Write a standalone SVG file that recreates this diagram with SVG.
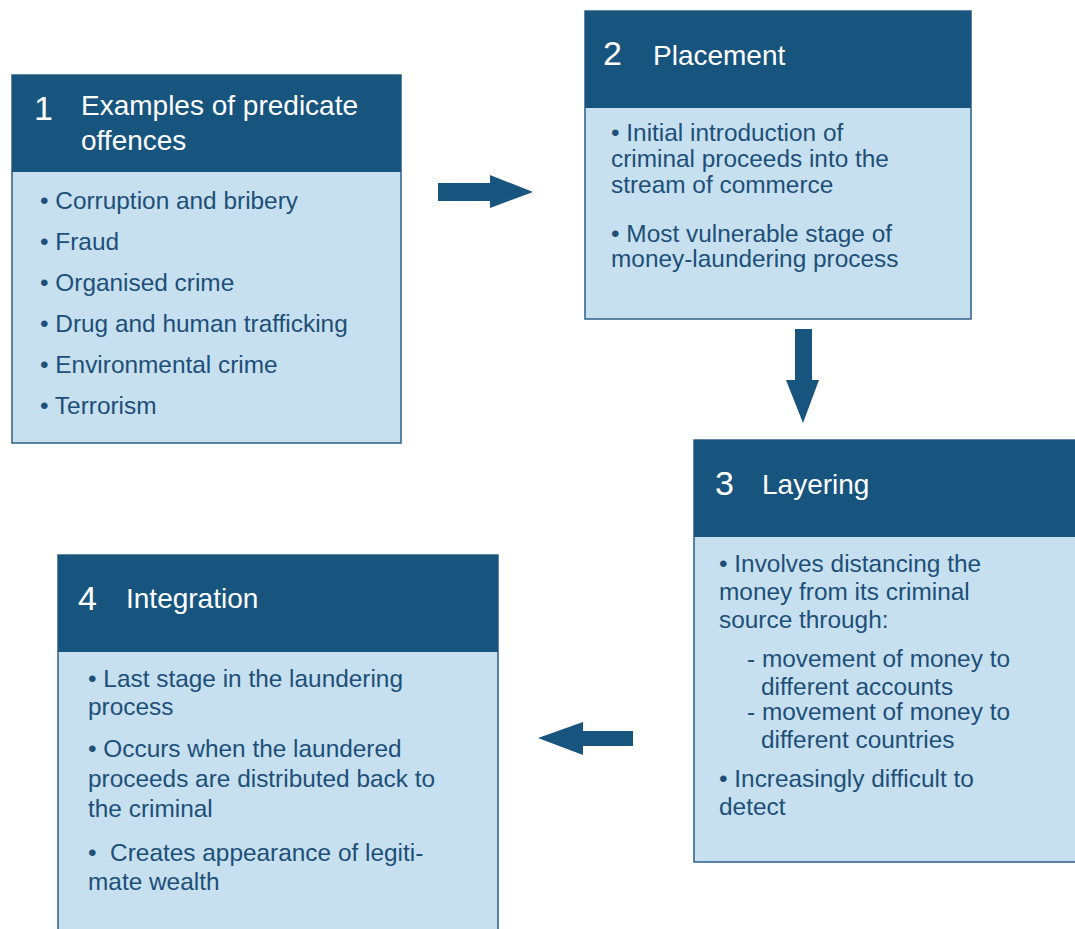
<svg xmlns="http://www.w3.org/2000/svg" width="1075" height="929" viewBox="0 0 1075 929">
<style>
.body{fill:#c6e0ef;stroke:#2c5f86;stroke-width:1.5}
.head{fill:#17557f}
.num{font-family:"Liberation Sans",Arial,sans-serif;font-size:34px;fill:#ffffff}
.ttl{font-family:"Liberation Sans",Arial,sans-serif;font-size:28px;fill:#ffffff}
.txt{font-family:"Liberation Sans",Arial,sans-serif;font-size:24.4px;fill:#1d4f78}
.arr{fill:#17557f}
</style>
<rect width="1075" height="929" fill="#ffffff"/>
<g id="node1">
<rect class="body" x="12" y="75" width="389" height="368"/>
<rect class="head" x="12" y="75" width="389" height="97"/>
<text class="num" x="34" y="120">1</text>
<text class="ttl" x="81" y="115">Examples of predicate</text>
<text class="ttl" x="81" y="150">offences</text>
<text class="txt" x="40" y="209">• Corruption and bribery</text>
<text class="txt" x="40" y="250">• Fraud</text>
<text class="txt" x="40" y="291">• Organised crime</text>
<text class="txt" x="40" y="332">• Drug and human trafficking</text>
<text class="txt" x="40" y="373">• Environmental crime</text>
<text class="txt" x="40" y="414">• Terrorism</text>
</g>
<g id="node2">
<rect class="body" x="585" y="11" width="386" height="308"/>
<rect class="head" x="585" y="11" width="386" height="97"/>
<text class="num" x="603" y="65">2</text>
<text class="ttl" x="653" y="65">Placement</text>
<text class="txt" x="611" y="141">• Initial introduction of</text>
<text class="txt" x="611" y="167">criminal proceeds into the</text>
<text class="txt" x="611" y="193">stream of commerce</text>
<text class="txt" x="611" y="242">• Most vulnerable stage of</text>
<text class="txt" x="611" y="267">money-laundering process</text>
</g>
<g id="node3">
<rect class="body" x="694" y="440" width="390" height="422"/>
<rect class="head" x="694" y="440" width="390" height="97"/>
<text class="num" x="715" y="495">3</text>
<text class="ttl" x="762" y="494">Layering</text>
<text class="txt" x="719" y="572">• Involves distancing the</text>
<text class="txt" x="719" y="600">money from its criminal</text>
<text class="txt" x="719" y="628">source through:</text>
<text class="txt" x="747" y="667">- movement of money to</text>
<text class="txt" x="761" y="695">different accounts</text>
<text class="txt" x="747" y="720">- movement of money to</text>
<text class="txt" x="761" y="748">different countries</text>
<text class="txt" x="719" y="787">• Increasingly difficult to</text>
<text class="txt" x="719" y="815">detect</text>
</g>
<g id="node4">
<rect class="body" x="58" y="555" width="440" height="390"/>
<rect class="head" x="58" y="555" width="440" height="97"/>
<text class="num" x="78" y="610">4</text>
<text class="ttl" x="126" y="608">Integration</text>
<text class="txt" x="88" y="687">• Last stage in the laundering</text>
<text class="txt" x="88" y="715">process</text>
<text class="txt" x="88" y="757">• Occurs when the laundered</text>
<text class="txt" x="88" y="787">proceeds are distributed back to</text>
<text class="txt" x="88" y="817">the criminal</text>
<text class="txt" x="88" y="861">•&#160; Creates appearance of legiti-</text>
<text class="txt" x="88" y="890">mate wealth</text>
</g>
<g id="connectors">
<polygon class="arr" points="438,183 490,183 490,175 533,192 490,208 490,201 438,201"/>
<polygon class="arr" points="795,329 812,329 812,380 819,380 803,423 786,380 795,380"/>
<polygon class="arr" points="633,731 583,731 583,722 538,738 583,755 583,746 633,746"/>
</g>
</svg>
